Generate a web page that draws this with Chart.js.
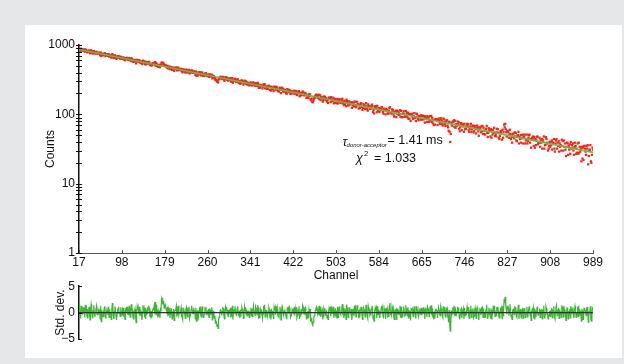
<!DOCTYPE html>
<html>
<head>
<meta charset="utf-8">
<script src="https://cdn.jsdelivr.net/npm/chart.js@4.4.1/dist/chart.umd.min.js"></script>
<style>
  html, body { margin: 0; padding: 0; }
  body { width: 624px; height: 364px; background: #e6e7e8; position: relative; overflow: hidden; }
  #panel { position: absolute; left: 25px; top: 25px; width: 597px; height: 333px; background: #fff; }
  .box { position: absolute; left: 25px; width: 597px; }
  #main-box { top: 25px; height: 262px; }
  #resid-box { top: 275px; height: 83px; }
</style>
</head>
<body>
<div id="panel"></div>
<div class="box" id="main-box"><canvas id="decay-chart"></canvas></div>
<div class="box" id="resid-box"><canvas id="resid-chart"></canvas></div>
<script>
// Decay curve + residuals
const FONT = '"Liberation Sans", Arial, Helvetica, sans-serif';
Chart.defaults.font.family = FONT;
Chart.defaults.font.size = 12;
Chart.defaults.color = '#111';

const COLORS = {
  points: '#f3261c',
  fit: '#62bd4c',
  resid: '#3fb23a',
  axis: '#111',
  zero: '#333'
};

// one value per channel, channel 17 .. 989
const firstChannel = 17;

const counts = [
  910, 874, 848, 820, 884, 859, 864, 828, 864, 827, 855, 802, 866, 827, 838, 799, 785, 818, 810, 835, 787, 760, 804, 838, 815, 770, 753,
  793, 818, 782, 752, 771, 785, 800, 755, 749, 750, 777, 752, 767, 713, 780, 694, 753, 714, 740, 711, 739, 754, 757, 692, 705, 719, 733,
  731, 697, 736, 679, 718, 690, 696, 657, 704, 739, 711, 666, 648, 685, 710, 689, 650, 630, 665, 676, 684, 691, 651, 657, 634, 679, 634,
  637, 655, 629, 662, 619, 641, 602, 645, 648, 632, 651, 613, 637, 606, 647, 612, 619, 586, 645, 627, 615, 582, 570, 599, 602, 610, 574,
  542, 579, 610, 594, 604, 571, 602, 560, 586, 556, 573, 532, 564, 596, 570, 577, 534, 576, 523, 562, 536, 556, 539, 566, 572, 558, 518,
  530, 507, 538, 507, 534, 542, 538, 551, 515, 566, 506, 550, 501, 525, 487, 510, 489, 514, 478, 522, 503, 555, 538, 560, 530, 543, 510,
  511, 516, 502, 492, 475, 501, 461, 483, 463, 490, 449, 472, 460, 481, 438, 465, 447, 473, 424, 461, 461, 464, 475, 431, 468, 435, 471,
  434, 441, 437, 443, 454, 421, 414, 404, 447, 443, 431, 419, 401, 435, 442, 421, 401, 427, 432, 437, 389, 397, 400, 420, 433, 415, 399,
  398, 419, 405, 406, 371, 414, 360, 399, 362, 400, 375, 390, 404, 405, 374, 364, 382, 403, 381, 357, 359, 367, 386, 381, 392, 361, 366,
  370, 356, 377, 346, 375, 355, 369, 353, 374, 330, 361, 339, 356, 330, 338, 311, 317, 313, 297, 303, 288, 318, 323, 331, 343, 348, 336,
  324, 336, 347, 343, 317, 305, 322, 343, 331, 342, 316, 331, 306, 327, 315, 316, 331, 298, 328, 297, 333, 286, 313, 303, 315, 327, 308,
  296, 293, 315, 322, 301, 285, 301, 277, 303, 279, 303, 309, 301, 289, 268, 285, 306, 290, 302, 276, 293, 270, 285, 270, 285, 261, 280,
  270, 288, 264, 283, 260, 276, 289, 273, 265, 258, 282, 276, 267, 257, 284, 275, 241, 251, 242, 266, 259, 261, 254, 236, 250, 272, 262,
  273, 237, 253, 249, 254, 233, 233, 247, 259, 251, 225, 248, 220, 250, 232, 242, 231, 216, 251, 240, 247, 226, 250, 232, 242, 220, 217,
  213, 228, 242, 228, 202, 229, 242, 234, 216, 211, 224, 227, 218, 209, 200, 199, 231, 217, 224, 209, 225, 217, 196, 200, 201, 217, 212,
  214, 202, 219, 197, 215, 205, 217, 190, 195, 205, 207, 216, 182, 200, 186, 205, 190, 200, 213, 208, 190, 188, 200, 203, 193, 173, 189,
  176, 191, 172, 194, 184, 194, 164, 160, 169, 152, 149, 156, 166, 171, 175, 184, 188, 193, 189, 174, 180, 170, 192, 166, 188, 162, 178,
  171, 176, 152, 160, 181, 176, 179, 161, 169, 170, 152, 159, 146, 166, 175, 170, 172, 151, 177, 156, 165, 156, 173, 144, 164, 148, 167,
  147, 160, 144, 167, 144, 160, 156, 166, 149, 146, 152, 161, 168, 143, 152, 136, 157, 140, 152, 131, 163, 155, 148, 134, 136, 154, 144,
  144, 139, 149, 124, 147, 135, 147, 130, 152, 152, 137, 127, 134, 152, 140, 140, 121, 134, 123, 138, 144, 144, 128, 116, 124, 140, 136,
  130, 119, 132, 145, 130, 119, 113, 139, 131, 132, 120, 123, 121, 131, 138, 131, 108, 116, 103, 124, 131, 123, 129, 107, 133, 112, 120,
  123, 108, 119, 114, 120, 125, 127, 115, 108, 102, 121, 115, 116, 100, 120, 111, 117, 102, 103, 112, 123, 127, 104, 107, 103, 118, 112,
  115, 99, 93, 108, 107, 112, 91, 113, 101, 110, 100, 106, 98, 115, 92, 112, 91, 101, 91, 103, 111, 101, 92, 93, 112, 97, 105,
  91, 106, 86, 101, 87, 98, 80, 101, 100, 102, 91, 86, 94, 104, 91, 89, 80, 102, 101, 93, 86, 82, 95, 91, 93, 84, 97,
  84, 94, 85, 96, 85, 92, 76, 94, 87, 88, 78, 94, 91, 87, 78, 81, 94, 82, 95, 78, 89, 74, 82, 70, 83, 71, 85,
  85, 85, 80, 70, 82, 87, 82, 75, 73, 88, 84, 80, 72, 69, 87, 77, 84, 72, 68, 77, 81, 82, 69, 65, 58, 78, 56,
  40, 52, 76, 69, 70, 79, 77, 82, 66, 81, 64, 72, 68, 70, 79, 72, 77, 62, 57, 65, 73, 75, 59, 70, 67, 72, 56,
  73, 61, 67, 62, 67, 73, 67, 72, 59, 56, 62, 67, 73, 56, 61, 67, 69, 55, 57, 65, 68, 61, 53, 63, 69, 65, 57,
  49, 61, 65, 64, 55, 67, 57, 68, 52, 64, 52, 58, 51, 60, 62, 68, 54, 47, 54, 63, 59, 59, 48, 61, 46, 59, 51,
  60, 54, 64, 55, 49, 52, 48, 62, 55, 61, 54, 46, 44, 49, 57, 54, 58, 43, 60, 46, 55, 71, 65, 73, 61, 55, 48,
  57, 58, 55, 46, 51, 60, 52, 44, 47, 39, 52, 48, 53, 45, 55, 48, 54, 42, 41, 49, 50, 56, 38, 47, 44, 50, 39,
  50, 45, 51, 38, 48, 47, 51, 38, 42, 44, 51, 38, 41, 46, 50, 51, 39, 44, 33, 44, 46, 44, 48, 35, 47, 33, 44,
  36, 42, 47, 48, 37, 39, 39, 46, 34, 43, 39, 44, 32, 43, 40, 48, 32, 36, 36, 47, 44, 39, 38, 30, 32, 35, 40,
  34, 40, 36, 42, 31, 39, 39, 44, 32, 29, 38, 42, 44, 32, 39, 35, 41, 29, 38, 34, 36, 30, 43, 35, 41, 30, 42,
  34, 38, 31, 25, 34, 39, 38, 26, 35, 31, 37, 27, 40, 32, 36, 33, 38, 30, 26, 34, 39, 35, 27, 32, 28, 38, 27,
  39, 28, 34, 29, 32, 21, 34, 23, 33, 22, 35, 35, 32, 29, 26, 35, 32, 36, 19, 25, 30, 31, 36, 21, 20, 26, 33, 31
];

// weighted residuals (std. dev.), same channels
const residuals = [
  1.8, 0.6, -0.2, -1.1, 1.3, 0.5, 0.8, -0.4, 1.0, -0.2, 0.9, -0.9, 1.5, 0.2, 0.7, -0.6, -1.0, 0.3, 0.1, 1.1, -0.5, -1.4, 0.3, 1.6, 0.9, -0.6, -1.1,
  0.4, 1.4, 0.2, -0.8, 0.0, 0.6, 1.2, -0.3, -0.4, -0.3, 0.8, 0.0, 0.6, -1.2, 1.3, -1.7, 0.5, -0.8, 0.2, -0.7, 0.4, 1.0, 1.2, -1.0, -0.5, 0.1, 0.7,
  0.7, -0.4, 1.1, -0.9, 0.6, -0.3, 0.0, -1.3, 0.5, 1.8, 0.9, -0.6, -1.2, 0.2, 1.2, 0.5, -0.8, -1.4, -0.1, 0.4, 0.8, 1.1, -0.2, 0.1, -0.7, 1.0, -0.5,
  -0.4, 0.4, -0.6, 0.9, -0.8, 0.2, -1.3, 0.6, 0.8, 0.2, 1.1, -0.4, 0.7, -0.5, 1.3, -0.1, 0.3, -1.0, 1.6, 0.9, 0.5, -0.8, -1.2, 0.1, 0.3, 0.7, -0.7,
  -1.9, -0.3, 1.1, 0.5, 1.0, -0.3, 1.1, -0.6, 0.6, -0.6, 0.2, -1.4, 0.0, 1.4, 0.4, 0.8, -0.9, 0.9, -1.2, 0.5, -0.5, 0.4, -0.2, 1.0, 1.3, 0.8, -0.8,
  -0.2, -1.1, 0.3, -0.9, 0.3, 0.7, 0.6, 1.2, -0.2, 2.0, -0.4, 1.5, -0.5, 0.6, -0.9, 0.1, -0.7, 0.4, -1.0, 0.9, 0.2, 2.4, 1.8, 2.8, 1.6, 2.2, 0.9,
  1.2, 1.5, 0.9, 0.5, -0.2, 1.1, -0.7, 0.4, -0.5, 0.9, -1.0, 0.2, -0.3, 0.8, -1.2, 0.2, -0.6, 0.7, -1.5, 0.3, 0.4, 0.6, 1.2, -0.8, 1.0, -0.5, 1.3,
  -0.4, 0.0, -0.1, 0.3, 0.9, -0.6, -0.9, -1.3, 0.8, 0.7, 0.2, -0.3, -1.1, 0.6, 1.0, 0.1, -0.8, 0.5, 0.8, 1.1, -1.1, -0.6, -0.4, 0.6, 1.3, 0.5, -0.2,
  -0.2, 0.9, 0.3, 0.4, -1.2, 0.9, -1.6, 0.3, -1.4, 0.5, -0.6, 0.2, 0.9, 1.0, -0.4, -0.8, 0.1, 1.2, 0.2, -0.9, -0.7, -0.3, 0.7, 0.5, 1.1, -0.3, 0.0,
  0.2, -0.5, 0.7, -0.9, 0.8, -0.3, 0.6, -0.2, 1.0, -1.4, 0.4, -0.8, 0.3, -1.1, -0.6, -2.0, -1.6, -1.8, -2.6, -2.2, -3.0, -1.2, -0.9, -0.4, 0.4, 0.7, 0.1,
  -0.5, 0.2, 0.9, 0.8, -0.6, -1.2, -0.2, 1.0, 0.4, 1.1, -0.3, 0.6, -0.7, 0.5, -0.1, 0.0, 0.9, -0.9, 0.9, -0.8, 1.3, -1.3, 0.3, -0.2, 0.5, 1.2, 0.2,
  -0.4, -0.5, 0.8, 1.2, 0.1, -0.7, 0.3, -1.0, 0.5, -0.8, 0.6, 1.0, 0.6, 0.0, -1.1, -0.1, 1.1, 0.3, 1.0, -0.4, 0.6, -0.6, 0.3, -0.5, 0.4, -0.9, 0.2,
  -0.3, 0.9, -0.6, 0.7, -0.7, 0.4, 1.3, 0.3, -0.1, -0.5, 1.1, 0.8, 0.2, -0.4, 1.4, 0.9, -1.2, -0.5, -1.0, 0.6, 0.2, 0.4, 0.0, -1.1, -0.2, 1.3, 0.7,
  1.5, -0.8, 0.3, 0.1, 0.5, -0.8, -0.8, 0.2, 1.0, 0.6, -1.0, 0.5, -1.3, 0.7, -0.4, 0.3, -0.3, -1.2, 1.0, 0.4, 0.9, -0.4, 1.2, 0.1, 0.8, -0.6, -0.7,
  -0.9, 0.1, 1.1, 0.2, -1.4, 0.4, 1.2, 0.8, -0.3, -0.6, 0.3, 0.6, 0.0, -0.5, -1.0, -1.1, 1.0, 0.2, 0.7, -0.2, 0.9, 0.4, -0.9, -0.6, -0.5, 0.6, 0.3,
  0.5, -0.3, 1.0, -0.6, 0.8, 0.1, 1.0, -0.9, -0.5, 0.3, 0.5, 1.2, -1.2, 0.2, -0.8, 0.7, -0.4, 0.4, 1.4, 1.1, -0.2, -0.3, 0.6, 0.9, 0.2, -1.2, 0.0,
  -0.9, 0.3, -1.1, 0.6, -0.1, 0.7, -1.5, -1.7, -1.0, -2.2, -2.4, -1.8, -1.0, -0.6, -0.3, 0.4, 0.7, 1.1, 0.9, -0.2, 0.3, -0.4, 1.3, -0.6, 1.1, -0.8, 0.5,
  0.0, 0.4, -1.3, -0.7, 0.9, 0.6, 0.8, -0.5, 0.2, 0.3, -1.0, -0.4, -1.3, 0.2, 0.9, 0.6, 0.8, -0.7, 1.2, -0.3, 0.4, -0.2, 1.1, -1.0, 0.5, -0.6, 0.8,
  -0.8, 0.4, -1.0, 1.1, -0.9, 0.6, 0.3, 1.2, -0.2, -0.4, 0.1, 0.9, 1.6, -0.5, 0.3, -1.0, 0.8, -0.6, 0.5, -1.3, 1.5, 0.9, 0.3, -0.9, -0.6, 1.0, 0.1,
  0.2, -0.2, 0.7, -1.4, 0.6, -0.4, 0.7, -0.7, 1.2, 1.3, 0.0, -0.8, -0.2, 1.4, 0.4, 0.4, -1.1, 0.0, -0.9, 0.5, 1.0, 1.0, -0.3, -1.3, -0.5, 0.9, 0.6,
  0.1, -0.8, 0.3, 1.5, 0.2, -0.7, -1.1, 1.1, 0.5, 0.6, -0.4, -0.1, -0.3, 0.7, 1.3, 0.8, -1.2, -0.5, -1.6, 0.3, 0.9, 0.3, 0.8, -1.0, 1.2, -0.5, 0.2,
  0.6, -0.9, 0.3, -0.2, 0.5, 1.0, 1.2, 0.1, -0.6, -1.1, 0.8, 0.2, 0.4, -1.2, 0.9, 0.0, 0.6, -0.8, -0.7, 0.3, 1.4, 1.8, -0.4, -0.1, -0.5, 1.1, 0.5,
  0.9, -0.7, -1.3, 0.3, 0.2, 0.7, -1.3, 0.9, -0.2, 0.7, -0.3, 0.4, -0.4, 1.3, -0.9, 1.1, -1.0, 0.1, -0.9, 0.4, 1.2, 0.2, -0.6, -0.5, 1.4, 0.0, 0.8,
  -0.6, 1.0, -1.0, 0.5, -0.8, 0.3, -1.5, 0.7, 0.6, 0.8, -0.2, -0.7, 0.1, 1.2, -0.1, -0.3, -1.1, 1.1, 1.0, 0.3, -0.4, -0.8, 0.6, 0.2, 0.4, -0.4, 0.9,
  -0.5, 0.7, -0.3, 1.0, -0.2, 0.6, -1.2, 0.9, 0.2, 0.3, -0.8, 1.1, 0.8, 0.3, -0.7, -0.3, 1.2, -0.1, 1.4, -0.5, 0.8, -0.9, 0.1, -1.3, 0.2, -1.1, 0.5,
  0.6, 0.6, 0.0, -1.0, 0.4, 0.9, 0.5, -0.3, -0.6, 1.2, 0.8, 0.3, -0.6, -0.9, 1.2, 0.1, 1.0, -0.4, -0.8, 0.2, 0.7, 0.9, -0.6, -1.0, -1.8, 0.5, -2.0,
  -3.5, -2.4, 0.4, -0.4, -0.2, 0.8, 0.7, 1.3, -0.5, 1.1, -0.7, 0.2, -0.2, 0.0, 1.1, 0.4, 0.9, -0.8, -1.3, -0.4, 0.6, 0.8, -1.0, 0.3, 0.0, 0.6, -1.2,
  0.9, -0.6, 0.2, -0.4, 0.3, 1.1, 0.2, 1.0, -0.7, -1.1, -0.2, 0.5, 1.3, -0.9, -0.3, 0.5, 0.8, -1.0, -0.7, 0.4, 0.9, 0.0, -1.1, 0.3, 1.0, 0.6, -0.4,
  -1.4, 0.1, 0.7, 0.6, -0.5, 1.0, -0.2, 1.2, -0.9, 0.8, -0.8, 0.1, -0.9, 0.3, 0.6, 1.5, -0.3, -1.2, -0.3, 0.9, 0.4, 0.4, -1.0, 0.8, -1.2, 0.5, -0.5,
  0.7, 0.0, 1.3, 0.1, -0.7, -0.2, -0.6, 1.1, 0.3, 1.1, 0.2, -0.8, -1.0, -0.4, 0.6, 0.3, 0.8, -1.1, 1.2, -0.6, 0.5, 2.6, 1.9, 3.0, 1.4, 0.7, -0.3,
  1.1, 1.3, 0.8, -0.6, 0.2, 1.6, 0.4, -0.8, -0.3, -1.3, 0.6, 0.0, 0.8, -0.4, 1.2, 0.2, 1.0, -0.7, -0.9, 0.3, 0.5, 1.5, -1.2, 0.2, -0.3, 0.7, -1.0,
  0.6, -0.1, 0.9, -1.1, 0.5, 0.3, 0.9, -0.9, -0.4, 0.0, 1.1, -0.8, -0.5, 0.4, 1.0, 1.2, -0.6, 0.2, -1.5, 0.2, 0.6, 0.3, 0.9, -1.1, 0.7, -1.3, 0.4,
  -0.8, 0.1, 0.9, 1.0, -0.5, -0.3, -0.2, 0.8, -0.9, 0.5, -0.2, 0.7, -1.2, 0.6, 0.1, 1.3, -1.0, -0.5, -0.4, 1.2, 0.8, 0.1, 0.0, -1.2, -0.9, -0.4, 0.3,
  -0.7, 0.5, -0.3, 0.9, -1.0, 0.4, 0.3, 1.2, -0.8, -1.2, 0.2, 1.0, 1.4, -0.6, 0.6, -0.2, 0.9, -1.1, 0.6, -0.3, 0.2, -0.9, 1.4, 0.0, 1.1, -0.8, 1.3,
  0.0, 0.6, -0.6, -1.5, 0.1, 0.9, 0.8, -1.2, 0.3, -0.4, 0.7, -1.0, 1.2, -0.2, 0.5, 0.2, 1.0, -0.4, -1.0, 0.4, 1.2, 0.5, -0.9, 0.1, -0.6, 1.1, -0.7,
  1.3, -0.5, 0.6, -0.3, 0.3, -1.6, 0.7, -1.3, 0.4, -1.4, 0.8, 0.9, 0.4, -0.1, -0.6, 1.0, 0.5, 1.1, -1.8, -0.7, 0.2, 0.3, 1.2, -1.4, -1.6, -0.4, 0.8, 0.6
];

// fitted decay: a straight line on the log axis, end points
const fitChannels = [17, 989];
const fitCounts = [860, 28.3];

const channelTicks = [17, 98, 179, 260, 341, 422, 503, 584, 665, 746, 827, 908, 989];
const countDecades = [1, 10, 100, 1000];
const residTicks = [-5, 0, 5];

// 1,2,...9,10,20,...,1000
const logTicks = [];
countDecades.forEach((d, i) => {
  logTicks.push(d);
  if (i < countDecades.length - 1) {
    for (let k = 2; k < 10; k++) logTicks.push(k * d);
  }
});

// small tick marks drawn across / inside the axes
const tickMarks = {
  id: 'tickMarks',
  afterDraw(chart, args, opts) {
    const { ctx, chartArea } = chart;
    ctx.save();
    ctx.strokeStyle = COLORS.axis;
    ctx.lineWidth = 1;
    const ys = chart.scales.y;
    ys.ticks.forEach(t => {
      const py = Math.round(ys.getPixelForValue(t.value)) + 0.5;
      ctx.beginPath();
      ctx.moveTo(chartArea.left - opts.yOut, py);
      ctx.lineTo(chartArea.left + opts.yIn, py);
      ctx.stroke();
    });
    if (opts.xIn) {
      const xs = chart.scales.x;
      ctx.strokeStyle = '#555';
      xs.ticks.forEach(t => {
        const px = Math.round(xs.getPixelForValue(t.value)) + 0.5;
        ctx.beginPath();
        ctx.moveTo(px, chartArea.bottom);
        ctx.lineTo(px, chartArea.bottom - opts.xIn);
        ctx.stroke();
      });
    }
    ctx.restore();
  }
};

const fitLabel = {
  id: 'fitLabel',
  afterDraw(chart) {
    const ctx = chart.ctx;
    ctx.save();
    ctx.fillStyle = '#111';
    ctx.textBaseline = 'alphabetic';
    ctx.font = 'italic 12.5px ' + FONT;
    ctx.fillText('τ', 317.5, 121);
    ctx.font = 'italic 6px ' + FONT;
    ctx.fillText('donor-acceptor', 321.5, 122);
    ctx.font = '12.5px ' + FONT;
    ctx.fillText('= 1.41 ms', 362.5, 118.5);
    ctx.font = 'italic 12.5px ' + FONT;
    ctx.fillText('χ', 331, 137);
    ctx.font = '7.5px ' + FONT;
    ctx.fillText('2', 339, 131);
    ctx.font = '12.5px ' + FONT;
    ctx.fillText('= 1.033', 349, 137);
    ctx.restore();
  }
};

const zeroLine = {
  id: 'zeroLine',
  afterDatasetsDraw(chart) {
    const { ctx, chartArea } = chart;
    const py = chart.scales.y.getPixelForValue(0);
    ctx.save();
    ctx.strokeStyle = COLORS.zero;
    ctx.lineWidth = 1.2;
    ctx.beginPath();
    ctx.moveTo(chartArea.left, py);
    ctx.lineTo(chartArea.right, py);
    ctx.stroke();
    ctx.restore();
  }
};

new Chart(document.getElementById('decay-chart'), {
  type: 'scatter',
  data: {
    datasets: [{
      label: 'Fit',
      data: fitChannels.map((c, i) => ({ x: c, y: fitCounts[i] })),
      showLine: true,
      borderColor: COLORS.fit,
      borderWidth: 1.6,
      pointRadius: 0,
      order: 0
    }, {
      label: 'Counts',
      data: counts.map((v, i) => ({ x: firstChannel + i, y: v })),
      pointStyle: 'rect',
      pointRadius: 1.6,
      borderWidth: 0,
      backgroundColor: COLORS.points,
      order: 1
    }]
  },
  options: {
    responsive: true,
    maintainAspectRatio: false,
    animation: false,
    layout: { padding: { left: 14, top: 20, right: 29, bottom: 0 } },
    plugins: {
      legend: { display: false },
      tooltip: { enabled: false },
      tickMarks: { yOut: 3, yIn: 3, xIn: 3 }
    },
    scales: {
      x: {
        type: 'linear', min: 17, max: 989,
        afterBuildTicks: s => { s.ticks = channelTicks.map(v => ({ value: v })); },
        afterFit: s => { s.height = 34; },
        grid: { display: false, drawTicks: false },
        border: { display: true, color: '#555', width: 1 },
        ticks: { autoSkip: false, padding: 2, maxRotation: 0, callback: v => String(v) },
        title: { display: true, text: 'Channel' }
      },
      y: {
        type: 'logarithmic', min: 1, max: 1000,
        afterBuildTicks: s => { s.ticks = logTicks.map(v => ({ value: v })); },
        afterFit: s => { s.width = 40; },
        grid: { display: false, drawTicks: false },
        border: { display: true, color: COLORS.axis, width: 1.5 },
        ticks: { autoSkip: false, padding: 4, callback: v => countDecades.includes(v) ? String(v) : '' },
        title: { display: true, text: 'Counts' }
      }
    }
  },
  plugins: [tickMarks, fitLabel]
});

new Chart(document.getElementById('resid-chart'), {
  type: 'scatter',
  data: {
    datasets: [{
      label: 'Residuals',
      data: residuals.map((v, i) => ({ x: firstChannel + i, y: v })),
      showLine: true,
      borderColor: COLORS.resid,
      borderWidth: 1.2,
      pointRadius: 0
    }]
  },
  options: {
    responsive: true,
    maintainAspectRatio: false,
    animation: false,
    layout: { padding: { left: 24, top: 9, right: 29, bottom: 19 } },
    plugins: {
      legend: { display: false },
      tooltip: { enabled: false },
      tickMarks: { yOut: 0, yIn: 3, xIn: 0 }
    },
    scales: {
      x: { type: 'linear', min: 17, max: 989, display: false },
      y: {
        min: -5, max: 5,
        afterBuildTicks: s => { s.ticks = residTicks.map(v => ({ value: v })); },
        afterFit: s => { s.width = 30; },
        grid: { display: false, drawTicks: false },
        border: { display: true, color: COLORS.axis, width: 1.5 },
        ticks: { autoSkip: false, padding: 4, callback: v => String(v).replace('-', '\u2212') },
        title: { display: true, text: 'Std. dev.' }
      }
    }
  },
  plugins: [tickMarks, zeroLine]
});
</script>
</body>
</html>
